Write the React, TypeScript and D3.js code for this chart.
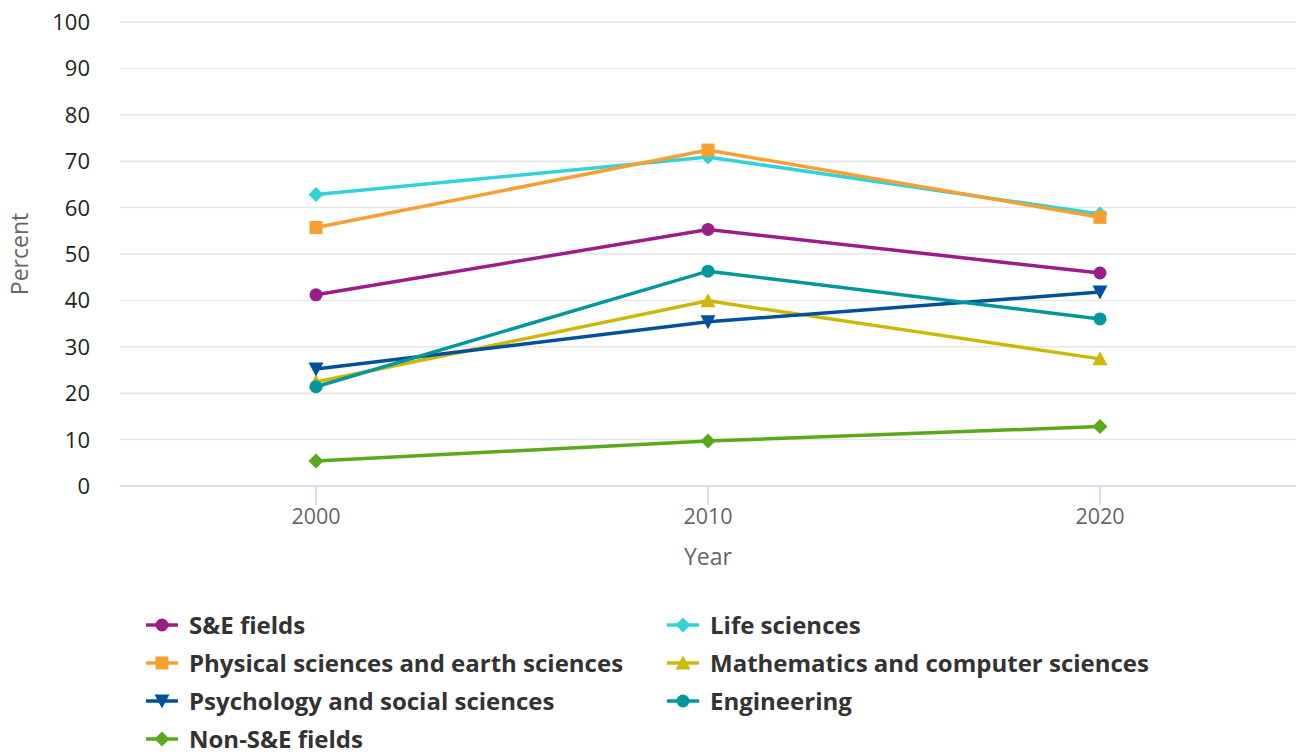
import React from "react";
import * as d3 from "d3";

const years = ["2000", "2010", "2020"];
const seriesNames = [
  "S&E fields",
  "Life sciences",
  "Physical sciences and earth sciences",
  "Mathematics and computer sciences",
  "Psychology and social sciences",
  "Engineering",
  "Non-S&E fields",
];
const seValues = [41.2, 55.3, 45.9];
const lifeValues = [62.8, 70.9, 58.6];
const physValues = [55.7, 72.4, 57.9];
const mathValues = [22.4, 39.9, 27.4];
const psychValues = [25.2, 35.4, 41.8];
const engValues = [21.4, 46.3, 36.0];
const nonSEValues = [5.4, 9.7, 12.8];
const yTicks = [0, 10, 20, 30, 40, 50, 60, 70, 80, 90, 100];

const colors = ["#9b1d87", "#33d1da", "#f6a032", "#cdb80a", "#00519a", "#00979d", "#5aa81c"];
const symbols = ["circle", "diamond", "square", "triangle", "triangle-down", "circle", "diamond"];
const values = [seValues, lifeValues, physValues, mathValues, psychValues, engValues, nonSEValues];

const FONT = "'Open Sans', sans-serif";

function Marker({ type, x, y, color }: { type: string; x: number; y: number; color: string }) {
  const r = 6.5;
  if (type === "circle") return <circle cx={x} cy={y} r={r} fill={color} />;
  if (type === "square") return <rect x={x - r} y={y - r} width={2 * r} height={2 * r} fill={color} />;
  if (type === "diamond")
    return <path d={`M${x},${y - r - 1}L${x + r + 1},${y}L${x},${y + r + 1}L${x - r - 1},${y}Z`} fill={color} />;
  if (type === "triangle")
    return <path d={`M${x},${y - r - 1}L${x + r + 1},${y + r}L${x - r - 1},${y + r}Z`} fill={color} />;
  return <path d={`M${x},${y + r + 1}L${x + r + 1},${y - r}L${x - r - 1},${y - r}Z`} fill={color} />;
}

export default function App() {
  const width = 1297;
  const height = 753;
  const x = d3.scaleBand<string>().domain(years).range([120, 1296]);
  const y = d3.scaleLinear().domain([0, 100]).range([486, 22]);
  const cx = (yr: string) => (x(yr) as number) + x.bandwidth() / 2;
  const line = d3
    .line<number>()
    .x((_, i) => cx(years[i]))
    .y((d) => y(d));

  const legendPos = seriesNames.map((_, i) => ({
    x: i % 2 === 0 ? 146 : 667,
    y: 625 + Math.floor(i / 2) * 38,
  }));

  return (
    <svg width={width} height={height} style={{ position: "absolute", left: 0, top: 0, fontFamily: FONT }}>
      <rect width={width} height={height} fill="#fff" />
      {yTicks.map((t) =>
        t === 0 ? null : (
          <line key={t} x1={120} x2={1296} y1={y(t)} y2={y(t)} stroke="#e6e6e6" strokeWidth={1.5} />
        )
      )}
      <line x1={120} x2={1296} y1={y(0)} y2={y(0)} stroke="#ccd6eb" strokeWidth={1.5} />
      {years.map((yr) => (
        <line key={yr} x1={cx(yr)} x2={cx(yr)} y1={y(0)} y2={y(0) + 19} stroke="#ccd6eb" strokeWidth={1.5} />
      ))}
      {yTicks.map((t) => (
        <text key={t} x={90} y={y(t)} dy="0.36em" textAnchor="end" fontSize={22} fill="#222">
          {t}
        </text>
      ))}
      {years.map((yr) => (
        <text key={yr} x={cx(yr)} y={524} textAnchor="middle" fontSize={21.5} fill="#666">
          {yr}
        </text>
      ))}
      <text x={708} y={565} textAnchor="middle" fontSize={23} fill="#666">
        Year
      </text>
      <text
        transform={`translate(28,${y(50)}) rotate(-90)`}
        textAnchor="middle"
        fontSize={23}
        fill="#666"
      >
        Percent
      </text>
      {values.map((vals, i) => (
        <g key={i}>
          <path d={line(vals) as string} fill="none" stroke={colors[i]} strokeWidth={3.5} />
          {vals.map((v, j) => (
            <Marker key={j} type={symbols[i]} x={cx(years[j])} y={y(v)} color={colors[i]} />
          ))}
        </g>
      ))}
      {seriesNames.map((name, i) => (
        <g key={name}>
          <line
            x1={legendPos[i].x}
            x2={legendPos[i].x + 32}
            y1={legendPos[i].y}
            y2={legendPos[i].y}
            stroke={colors[i]}
            strokeWidth={3.5}
          />
          <Marker type={symbols[i]} x={legendPos[i].x + 16} y={legendPos[i].y} color={colors[i]} />
          <text
            x={legendPos[i].x + 43}
            y={legendPos[i].y}
            dy="0.36em"
            fontSize={24}
            fontWeight="bold"
            fill="#333"
          >
            {name}
          </text>
        </g>
      ))}
    </svg>
  );
}
